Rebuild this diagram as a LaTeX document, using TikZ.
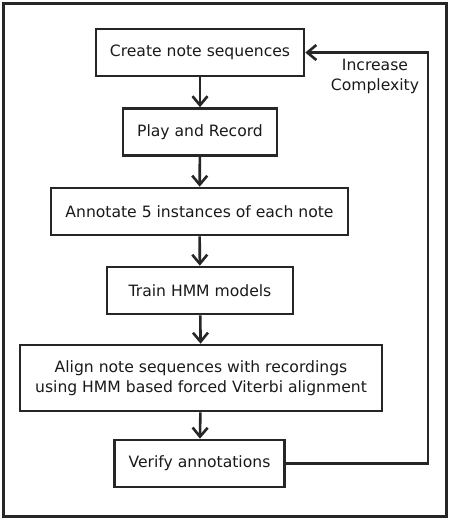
\documentclass[tikz,border=0pt]{standalone}
\usepackage{fontspec}
\setmainfont{DejaVu Sans}
\usetikzlibrary{arrows.meta}
\begin{document}
\begin{tikzpicture}[x=1pt,y=-1pt,
  stepbox/.style={draw=black!85, line width=2.6pt, inner sep=0pt, font=\fontsize{15.6}{20}\selectfont, align=center, text=black!90},
  flow/.style={draw=black!85, line width=2.6pt, -{Straight Barb[length=9pt,width=15pt,line width=2.6pt]}},
  lbl/.style={font=\fontsize{15.6}{20}\selectfont, align=center, text=black!90}]
\useasboundingbox (0,0) rectangle (450,520);
\draw[draw=black!85, line width=2.6pt] (3.5,3.5) rectangle (446.5,516.5);
\node[stepbox, minimum width=208pt, minimum height=47pt] (c) at (200,52.5) {Create note sequences};
\node[stepbox, minimum width=154pt, minimum height=47pt] (p) at (200,132) {Play and Record};
\node[stepbox, minimum width=297pt, minimum height=47pt] (a) at (199.5,211.5) {Annotate 5 instances of each note};
\node[stepbox, minimum width=186pt, minimum height=47pt] (t) at (200,290.5) {Train HMM models};
\node[stepbox, minimum width=362pt, minimum height=66pt] (al) at (201,378) {Align note sequences with recordings\\using HMM based forced Viterbi alignment};
\node[stepbox, minimum width=170pt, minimum height=47pt] (v) at (199.5,463.5) {Verify annotations};
\coordinate (r1) at (428,463.5);
\coordinate (r2) at (428,52.5);
\draw[flow] (c) -- (p);
\draw[flow] (p) -- (a);
\draw[flow] (a) -- (t);
\draw[flow] (t) -- (al);
\draw[flow] (al) -- (v);
\draw[flow] (v.east) -- (r1) -- (r2) -- (c.east);
\node[lbl] (ic) at (375,76) {Increase\\Complexity};
\end{tikzpicture}
\end{document}
